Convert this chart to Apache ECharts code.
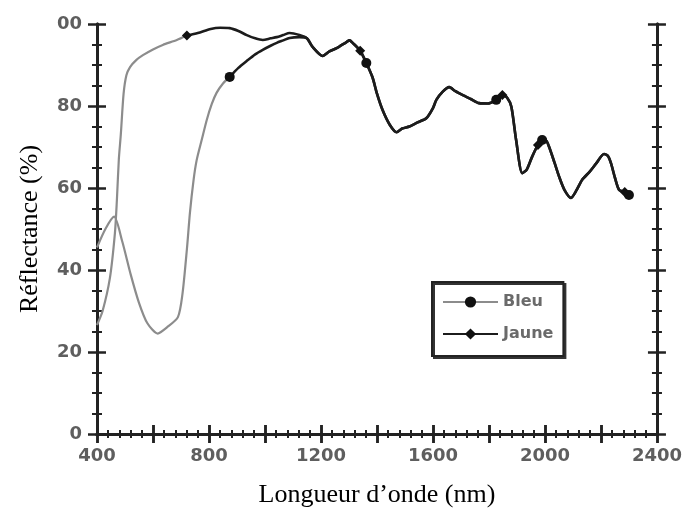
<!DOCTYPE html>
<html lang="fr">
<head>
    <meta charset="UTF-8">
    <title>Réflectance</title>
    <style>
        html, body { margin: 0; padding: 0; background: #fff; }
        #container { width: 685px; height: 513px; }
    </style>
</head>
<body>
    <div id="container"></div>
    <script src="https://cdn.jsdelivr.net/npm/echarts@6/dist/echarts.min.js"></script>
    <script>
        // Bleu: start of the curve (nm / %)
        var bleuNm = [400, 430, 461, 490, 520, 550, 580, 617, 650, 689, 705, 721, 732, 745, 756, 775, 792, 810, 827, 850, 874, 905, 935, 965, 992, 1020, 1042, 1065, 1088, 1123];
        var bleuR  = [45.5, 50, 53, 47, 39, 32, 27, 24.5, 26, 28.5, 34, 45, 54, 62, 66.8, 72, 76.6, 80.5, 83.2, 85.5, 87.1, 89.3, 91, 92.6, 93.7, 94.7, 95.4, 96, 96.6, 96.8];

        // Jaune: start of the curve
        var jauneNm = [400, 420, 446, 464, 471, 478, 485, 495, 505, 518, 540, 564, 600, 635, 685, 721, 760, 806, 840, 874, 905, 935, 965, 992, 1020, 1042, 1065, 1088, 1123];
        var jauneR  = [26.6, 30, 38, 49, 57, 67, 73, 83, 87.5, 89.5, 91.2, 92.4, 93.8, 94.9, 96.1, 97.2, 97.8, 98.8, 99.1, 99, 98.3, 97.3, 96.5, 96.1, 96.5, 96.8, 97.3, 97.8, 97.3];

        // both curves overlap from about 1150 nm
        var tailNm = [1150, 1170, 1206, 1230, 1256, 1291, 1302, 1313, 1340, 1362, 1384, 1400, 1420, 1445, 1470, 1490, 1516, 1545, 1576, 1600, 1612, 1635, 1658, 1680, 1705, 1735, 1765, 1795, 1826, 1848, 1865, 1880, 1897, 1919, 1935, 1954, 1975, 1990, 2005, 2015, 2035, 2051, 2070, 2093, 2113, 2133, 2160, 2183, 2211, 2225, 2236, 2250, 2265, 2285, 2300];
        var tailR  = [96.5, 94.4, 92.2, 93.3, 94.1, 95.6, 96, 95.4, 93.5, 90.5, 87, 83, 79, 75.5, 73.6, 74.5, 75, 76, 77, 79.5, 81.5, 83.5, 84.6, 83.6, 82.7, 81.7, 80.7, 80.6, 81.5, 82.7, 82, 79.8, 71.7, 63.6, 64.5, 67.6, 70.5, 71.7, 71.5, 70, 66, 62.7, 59.5, 57.6, 59.5, 62, 64, 66, 68.3, 67.8, 66, 62.5, 59.5, 59, 58.3];

        // where the markers sit
        var bleuMarks = [874, 1362, 1826, 1990, 2300];
        var jauneMarks = [721, 1340, 1848, 1975, 2285];
        // the line turns from grey to black here
        var bleuCut = 874, jauneCut = 721;

        var legendNames = ['Bleu', 'Jaune'];

        function buildData(nm, r, marks, from, to) {
            var allNm = nm.concat(tailNm), allR = r.concat(tailR);
            var out = [];
            allNm.forEach(function (x, i) {
                if (x < from || x > to) return;
                var item = { value: [x, allR[i]] };
                if (marks.indexOf(x) < 0 || x === to) item.symbol = 'none';
                out.push(item);
            });
            return out;
        }

        var ec = echarts.init(document.getElementById('container'));

        var axisColor = '#222';
        var labelFont = { color: '#5e5e5e', fontFamily: 'DejaVu Sans', fontWeight: 'bold', fontSize: 18 };
        var nameFont = { color: '#000', fontFamily: 'Liberation Serif', fontSize: 26 };

        function xAx(pos, inside, extra) {
            return Object.assign({
                type: 'value', position: pos, min: 400, max: 2400, interval: 200,
                splitLine: { show: false },
                axisLine: { lineStyle: { color: axisColor, width: 3 } },
                axisTick: { inside: inside, length: 9, lineStyle: { color: axisColor, width: 2.5 } },
                minorTick: { show: true, splitNumber: 5, length: 4, lineStyle: { color: axisColor, width: 2 } },
                axisLabel: { show: false }
            }, extra || {});
        }
        function yAx(pos, inside, extra) {
            return Object.assign({
                type: 'value', position: pos, min: 0, max: 100, interval: 20,
                splitLine: { show: false },
                axisLine: { lineStyle: { color: axisColor, width: 3 } },
                axisTick: { inside: inside, length: 9, lineStyle: { color: axisColor, width: 2.5 } },
                minorTick: { show: true, splitNumber: 4, length: 5, lineStyle: { color: axisColor, width: 2 } },
                axisLabel: { show: false }
            }, extra || {});
        }

        function lineSeries(name, symbol, color, width, data) {
            return {
                name: name, type: 'line', xAxisIndex: 0, yAxisIndex: 0,
                data: data, symbol: symbol, symbolSize: 10, showAllSymbol: true,
                smooth: 0.25,
                lineStyle: { width: width, color: color },
                itemStyle: { color: '#111' }
            };
        }

        var option = {
            backgroundColor: '#fff',
            animation: false,
            grid: { left: 97, right: 27, top: 24, bottom: 79 },
            legend: {
                data: legendNames,
                orient: 'vertical',
                left: 432, top: 282,
                padding: [12, 10, 14, 10],
                itemWidth: 55, itemHeight: 14, itemGap: 16,
                backgroundColor: '#fff',
                borderColor: '#222', borderWidth: 2,
                shadowColor: '#333', shadowBlur: 0, shadowOffsetX: 2, shadowOffsetY: 2,
                textStyle: { color: '#6a6a6a', fontFamily: 'DejaVu Sans', fontWeight: 'bold', fontSize: 16 }
            },
            xAxis: [
                xAx('bottom', false, {
                    name: 'Longueur d\u2019onde (nm)', nameLocation: 'middle', nameGap: 48, nameTextStyle: nameFont,
                    axisLabel: Object.assign({ show: true, margin: 13, formatter: function (v) { return v % 400 === 0 ? String(v) : ''; } }, labelFont)
                }),
                xAx('bottom', true),
                xAx('top', false),
                xAx('top', true)
            ],
            yAxis: [
                yAx('left', false, {
                    name: 'Réflectance (%)', nameLocation: 'middle', nameGap: 54, nameTextStyle: nameFont,
                    axisLabel: Object.assign({ show: true, margin: 15, formatter: function (v) { return v === 100 ? '00' : String(v); } }, labelFont)
                }),
                yAx('left', true),
                yAx('right', false),
                yAx('right', true)
            ],
            series: [
                lineSeries('Bleu', 'circle', '#8c8c8c', 2.2, buildData(bleuNm, bleuR, bleuMarks, 0, bleuCut)),
                lineSeries('Bleu', 'circle', '#1c1c1c', 2.6, buildData(bleuNm, bleuR, bleuMarks, bleuCut, 9999)),
                lineSeries('Jaune', 'diamond', '#1c1c1c', 2.6, buildData(jauneNm, jauneR, jauneMarks, jauneCut, 9999)),
                lineSeries('Jaune', 'diamond', '#8c8c8c', 2.2, buildData(jauneNm, jauneR, jauneMarks, 0, jauneCut))
            ]
        };
        ec.setOption(option);
    </script>
</body>
</html>
